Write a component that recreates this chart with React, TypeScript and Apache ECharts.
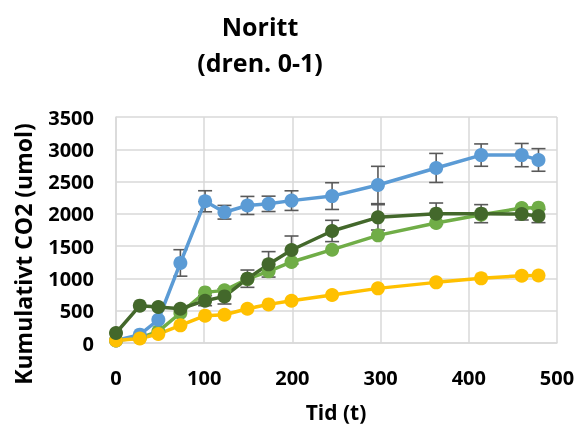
import React, { useEffect, useRef } from "react";
import * as echarts from "echarts";

const times = [0, 27, 48, 73, 101, 123, 149, 173, 199, 245, 297, 363, 414, 460, 479];

const blueVals = [40, 129, 360, 1240, 2195, 2025, 2130, 2155, 2205, 2275, 2447, 2711, 2910, 2910, 2835];
const blueErr = [0, 0, 0, 205, 163, 106, 140, 119, 152, 207, 289, 225, 173, 180, 175];

const lightGreenVals = [40, 80, 180, 465, 784, 815, 990, 1110, 1255, 1445, 1667, 1859, 1987, 2091, 2096];

const darkGreenVals = [155, 578, 558, 531, 655, 722, 996, 1218, 1440, 1735, 1946, 2003, 2003, 1998, 1967];
const darkGreenErr = [0, 0, 0, 0, 77, 118, 134, 197, 217, 165, 196, 165, 140, 93, 103];

const yellowVals = [40, 70, 139, 273, 423, 438, 531, 598, 655, 743, 846, 939, 1001, 1042, 1045];

const xTicks = [0, 100, 200, 300, 400, 500];
const yTicks = [0, 500, 1000, 1500, 2000, 2500, 3000, 3500];

const titleLines = ["Noritt", "(dren. 0-1)"];
const xTitle = "Tid (t)";
const yTitle = "Kumulativt CO2 (umol)";

const FONT = "'Open Sans', 'Noto Sans', sans-serif";

function pairs(vals: number[]) {
  return times.map((t, i) => [t, vals[i]]);
}
function errData(vals: number[], errs: number[]) {
  return times
    .map((t, i) => [t, vals[i], errs[i]])
    .filter((d) => d[2] > 0);
}

function lineSeries(name: string, vals: number[], color: string) {
  return {
    name,
    type: "line",
    data: pairs(vals),
    symbol: "circle",
    symbolSize: 14,
    showSymbol: true,
    lineStyle: { color, width: 3.5 },
    itemStyle: { color },
    z: 3,
    emphasis: { disabled: true },
  };
}

function errSeries(name: string, vals: number[], errs: number[]) {
  return {
    name,
    type: "custom",
    z: 2,
    data: errData(vals, errs),
    encode: { x: 0, y: 1 },
    renderItem: (params: any, api: any) => {
      const x = api.value(0);
      const y = api.value(1);
      const e = api.value(2);
      const top = api.coord([x, y + e]);
      const bot = api.coord([x, y - e]);
      const hw = 7;
      const style = { stroke: "#595959", lineWidth: 1.6 };
      return {
        type: "group",
        children: [
          { type: "line", shape: { x1: top[0], y1: top[1], x2: bot[0], y2: bot[1] }, style },
          { type: "line", shape: { x1: top[0] - hw, y1: top[1], x2: top[0] + hw, y2: top[1] }, style },
          { type: "line", shape: { x1: bot[0] - hw, y1: bot[1], x2: bot[0] + hw, y2: bot[1] }, style },
        ],
      };
    },
  };
}

export default function App() {
  const ref = useRef<HTMLDivElement>(null);
  useEffect(() => {
    if (!ref.current) return;
    const chart = echarts.init(ref.current, null, { renderer: "svg" });
    const axisText = { color: "#000", fontSize: 20, fontWeight: "bold" as const, fontFamily: FONT };
    const textStyle = (text: string, size: number) => ({
      text,
      fontSize: size,
      fontWeight: "bold",
      fontFamily: FONT,
      fill: "#000",
      textAlign: "center",
      textVerticalAlign: "middle",
    });
    chart.setOption({
      animation: false,
      grid: { left: 116, right: 20, top: 117, bottom: 83, containLabel: false, outerBoundsMode: "none" },
      graphic: [
        { type: "text", x: 260, y: 26, style: textStyle(titleLines[0], 25) },
        { type: "text", x: 260, y: 62, style: textStyle(titleLines[1], 25) },
        { type: "text", x: 23, y: 254, rotation: Math.PI / 2, style: textStyle(yTitle, 23) },
        { type: "text", x: 336, y: 412, style: textStyle(xTitle, 21) },
      ],
      xAxis: {
        type: "value",
        min: xTicks[0],
        max: xTicks[xTicks.length - 1],
        interval: 100,
        axisLine: { show: true, lineStyle: { color: "#d9d9d9", width: 1.5 } },
        axisTick: { show: false },
        axisLabel: { ...axisText, margin: 24, formatter: (v: number) => String(v) },
        splitLine: { show: true, lineStyle: { color: "#d9d9d9", width: 1.5 } },
      },
      yAxis: {
        type: "value",
        min: yTicks[0],
        max: yTicks[yTicks.length - 1],
        interval: 500,
        axisLine: { show: true, lineStyle: { color: "#d9d9d9", width: 1.5 } },
        axisTick: { show: false },
        axisLabel: { ...axisText, margin: 22, formatter: (v: number) => String(v) },
        splitLine: { show: true, lineStyle: { color: "#d9d9d9", width: 1.5 } },
      },
      series: [
        errSeries("Blå feil", blueVals, blueErr),
        errSeries("Mørkegrønn feil", darkGreenVals, darkGreenErr),
        lineSeries("Lysegrønn", lightGreenVals, "#70AD47"),
        lineSeries("Blå", blueVals, "#5B9BD5"),
        lineSeries("Gul", yellowVals, "#FFC000"),
        lineSeries("Mørkegrønn", darkGreenVals, "#43682B"),
      ],
    });
    return () => chart.dispose();
  }, []);
  return <div ref={ref} style={{ position: "fixed", left: 0, top: 0, width: 577, height: 426 }} />;
}
